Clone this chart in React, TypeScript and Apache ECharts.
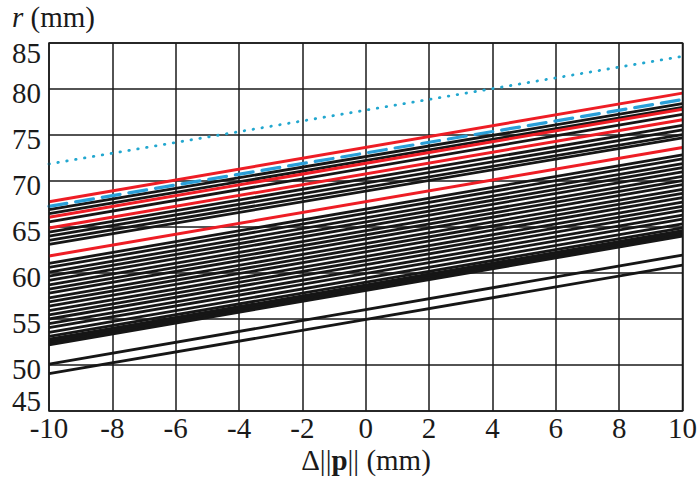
import React, { useEffect, useRef } from "react";
import * as echarts from "echarts";

// x-range of every line
const xStart = -10;
const xEnd = 10;

// black lines: value at x=-10 and x=10
const blackStart = [
  66.9, 66.45, 65.55, 64.45, 64.0, 63.55, 63.1,
  61.05, 60.6, 60.1, 59.65, 59.2, 58.7, 58.25, 57.8, 57.3, 56.85, 56.4, 55.9, 55.45, 55.0, 54.5, 54.05, 53.55, 53.1,
  52.8, 52.6, 52.4, 52.2,
  50.1, 49.05,
];
const blackEnd = [
  78.4, 78.0, 77.25, 76.05, 75.55, 75.05, 74.7,
  72.85, 72.4, 71.9, 71.45, 71.0, 70.5, 70.05, 69.6, 69.1, 68.65, 68.2, 67.7, 67.25, 66.8, 66.3, 65.85, 65.35, 64.9,
  64.6, 64.4, 64.2, 64.0,
  61.95, 60.85,
];

// red lines
const redStart = [67.75, 66.05, 64.9, 61.85];
const redEnd = [79.55, 77.8, 76.65, 73.65];

// blue dashed line
const dashedStart = 67.25;
const dashedEnd = 78.85;

// cyan dotted line
const dottedStart = 71.85;
const dottedEnd = 83.55;

const FONT = "'Liberation Serif', 'DejaVu Serif', serif";
const FS = 29;

function lineSeries(a: number, b: number, color: string, width: number, type: any, z: number) {
  return {
    type: "line",
    data: [
      [xStart, a],
      [xEnd, b],
    ],
    symbol: "none",
    silent: true,
    z,
    lineStyle: { color, width, type, cap: type === "solid" ? "butt" : "round" },
  };
}

export default function App() {
  const ref = useRef<HTMLDivElement>(null);
  useEffect(() => {
    if (!ref.current) return;
    const chart = echarts.init(ref.current, null, { renderer: "svg" });
    const series: any[] = [];
    blackStart.forEach((s, i) => series.push(lineSeries(s, blackEnd[i], "#161616", 2.8, "solid", 3)));
    redStart.forEach((s, i) => series.push(lineSeries(s, redEnd[i], "#ee1d25", 3, "solid", 4)));
    series.push(lineSeries(dashedStart, dashedEnd, "#2a9fd8", 3.2, [18, 9], 5));
    series.push(lineSeries(dottedStart, dottedEnd, "#22a7cf", 2.8, [0.5, 8.5], 5));

    const lab = { fontFamily: FONT, fontSize: FS, color: "#1a1a1a" };
    const ylab = { ...lab, lineHeight: 20 };

    chart.setOption({
      animation: false,
      backgroundColor: "#ffffff",
      grid: {
        left: 49,
        right: 16,
        top: 43,
        bottom: 69,
        show: true,
        borderColor: "#1a1a1a",
        borderWidth: 1.5,
        z: 10,
      },
      xAxis: {
        type: "value",
        min: -10,
        max: 10,
        interval: 2,
        axisLine: { show: false },
        axisTick: { show: false },
        splitLine: { show: true, lineStyle: { color: "#1a1a1a", width: 1.5 } },
        axisLabel: { ...lab, margin: 5, lineHeight: 24 },
      },
      yAxis: {
        type: "value",
        min: 45,
        max: 85,
        interval: 5,
        axisLine: { show: false },
        axisTick: { show: false },
        splitLine: { show: true, lineStyle: { color: "#1a1a1a", width: 1.5 } },
        axisLabel: {
          ...ylab,
          margin: 8,
          formatter: (v: number) => (v === 85 ? `{t|${v}}` : v === 45 ? `{b|${v}}` : `{n|${v}}`),
          rich: {
            t: { ...ylab, padding: [20, 0, 0, 0] },
            b: { ...ylab, padding: [0, 0, 20, 0] },
            n: { ...ylab, padding: [7, 0, 0, 0] },
          },
        },
      },
      graphic: [
        {
          type: "text",
          left: 12,
          top: 2,
          style: {
            text: "{i|r} (mm)",
            fontFamily: FONT,
            fontSize: FS,
            fill: "#1a1a1a",
            rich: { i: { fontStyle: "italic", fontFamily: FONT, fontSize: FS, color: "#1a1a1a" } },
          },
        },
        {
          type: "text",
          x: 366,
          y: 460,
          style: {
            text: "{n|Δ||}{b|p}{n||| (mm)}",
            align: "center",
            verticalAlign: "middle",
            fontFamily: FONT,
            fontSize: FS,
            lineHeight: 26,
            fill: "#1a1a1a",
            rich: {
              n: { fontFamily: FONT, fontSize: FS, lineHeight: 26, color: "#1a1a1a" },
              b: { fontFamily: FONT, fontSize: FS, lineHeight: 26, fontWeight: "bold", color: "#1a1a1a" },
            },
          },
        },
      ],
      series,
    });
    return () => chart.dispose();
  }, []);
  return <div ref={ref} style={{ position: "fixed", left: 0, top: 0, width: 700, height: 480 }} />;
}
